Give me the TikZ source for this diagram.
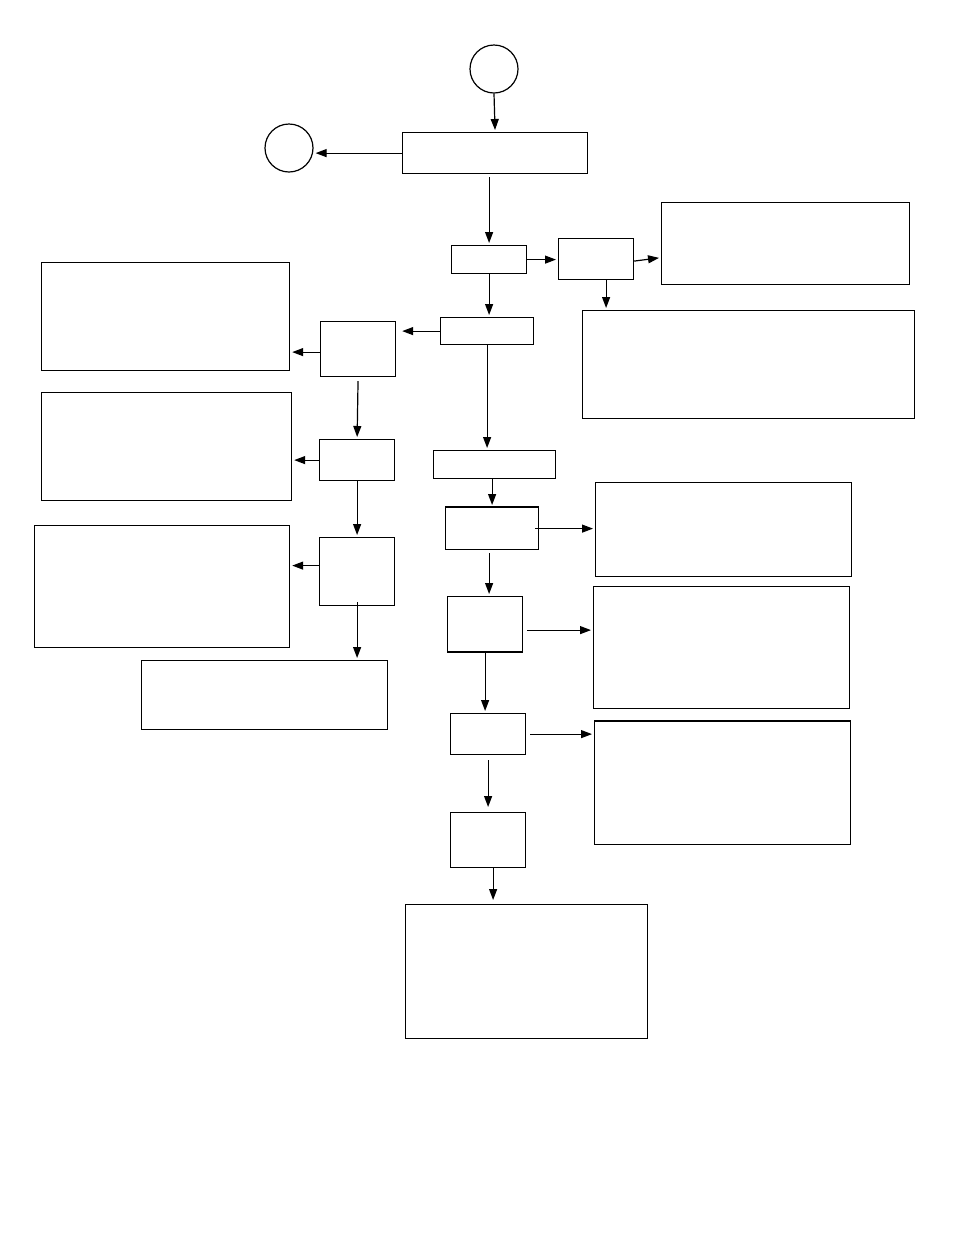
\documentclass[tikz,border=0pt]{standalone}
\usetikzlibrary{arrows.meta}
\begin{document}
\begin{tikzpicture}[x=1pt,y=-1pt,
  box/.style={draw,line width=1.2pt,rectangle,inner sep=0pt,anchor=north west},
  circ/.style={draw,line width=1.2pt,circle,inner sep=0pt,minimum size=48pt},
  arr/.style={line width=1.2pt,-{Triangle[length=11pt,width=8pt]},shorten >=2pt}]
\fill[white] (0,0) rectangle (954,1235);
\useasboundingbox (0,0) rectangle (954,1235);
% circles
\node[circ] (c1) at (494,69) {};
\node[circ] (c2) at (289,148) {};
% boxes
\node[box,minimum width=185pt,minimum height=41pt] (b1) at (402,132) {};
\node[box,minimum width=75pt,minimum height=28pt] (b2) at (451,245) {};
\node[box,minimum width=75pt,minimum height=41pt] (b3) at (558,238) {};
\node[box,minimum width=248pt,minimum height=82pt] (brA) at (661,202) {};
\node[box,minimum width=332pt,minimum height=108pt] (brB) at (582,310) {};
\node[box,minimum width=93pt,minimum height=27pt] (b4) at (440,317) {};
\node[box,minimum width=75pt,minimum height=55pt] (l1) at (320,321) {};
\node[box,minimum width=248pt,minimum height=108pt] (bl1) at (41,262) {};
\node[box,minimum width=75pt,minimum height=41pt] (l2) at (319,439) {};
\node[box,minimum width=250pt,minimum height=108pt] (bl2) at (41,392) {};
\node[box,minimum width=75pt,minimum height=68pt] (l3) at (319,537) {};
\node[box,minimum width=255pt,minimum height=122pt] (bl3) at (34,525) {};
\node[box,minimum width=246pt,minimum height=69pt] (bl4) at (141,660) {};
\node[box,minimum width=122pt,minimum height=28pt] (b5) at (433,450) {};
\node[box,minimum width=93pt,minimum height=42pt] (b6) at (445,507) {};
\node[box,minimum width=256pt,minimum height=94pt] (brC) at (595,482) {};
\node[box,minimum width=75pt,minimum height=55pt] (b7) at (447,596) {};
\node[box,minimum width=256pt,minimum height=122pt] (brD) at (593,586) {};
\node[box,minimum width=75pt,minimum height=41pt] (b8) at (450,713) {};
\node[box,minimum width=256pt,minimum height=123pt] (brE) at (594,721) {};
\node[box,minimum width=75pt,minimum height=55pt] (b9) at (450,812) {};
\node[box,minimum width=242pt,minimum height=134pt] (bb) at (405,904) {};
% thicker edges
\draw[line width=2.4pt] (b6.north west) -- (b6.north east);
\draw[line width=2.4pt] (b7.south west) -- (b7.south east);
\draw[line width=2.4pt] (brE.north west) -- (brE.north east);
% helper coordinates
\coordinate (b3s) at ([xshift=10pt]b3.south);
\coordinate (l1w) at ([yshift=-3pt]l1.west);
\coordinate (l3w) at ([yshift=6pt]l3.west);
\coordinate (b7e) at ([yshift=-6pt]b7.east);
\coordinate (b6s) at ([xshift=-3pt]b6.south);
\coordinate (b9s) at ([xshift=5pt]b9.south);
\coordinate (b3e) at ([yshift=-2pt]b3.east);
% connectors
\draw[arr] (c1.south) -- (b1.north);
\draw[arr] (b1.west) -- (b1.west -| c2.east);
\draw[arr,shorten <=3pt] (b1.south -| b2.north) -- (b2.north);
\draw[arr] (b2.east) -- (b2.east -| b3.west);
\draw[arr] (b3e) -- ([yshift=-14pt]brA.west);
\draw[arr] (b3s) -- (b3s |- brB.north);
\draw[arr] (b2.south) -- (b2.south |- b4.north);
\draw[arr,shorten >=6pt] (b4.west) -- (b4.west -| l1.east);
\draw[arr] (l1w) -- (l1w -| bl1.east);
\draw[arr,shorten <=4pt] (l1.south) -- (l2.north);
\draw[arr] (l2.west) -- (l2.west -| bl2.east);
\draw[arr] (l2.south) -- (l3.north);
\draw[arr] (l3w) -- (l3w -| bl3.east);
\draw[arr,shorten <=-4pt] (l3.south) -- (l3.south |- bl4.north);
\draw[arr] (b4.south) -- (b4.south |- b5.north);
\draw[arr] (b5.south -| b6.north) -- (b6.north);
\draw[arr,shorten <=-4pt] (b6.east) -- (b6.east -| brC.west);
\draw[arr,shorten <=3pt] (b6s) -- (b6s |- b7.north);
\draw[arr,shorten <=4pt] (b7e) -- (b7e -| brD.west);
\draw[arr] (b7.south) -- (b7.south |- b8.north);
\draw[arr,shorten <=5pt,shorten >=5pt] (b8.south) -- (b8.south |- b9.north);
\draw[arr,shorten <=4pt] (b8.east) -- (b8.east -| brE.west);
\draw[arr,shorten >=4pt] (b9s) -- (b9s |- bb.north);
\end{tikzpicture}
\end{document}
